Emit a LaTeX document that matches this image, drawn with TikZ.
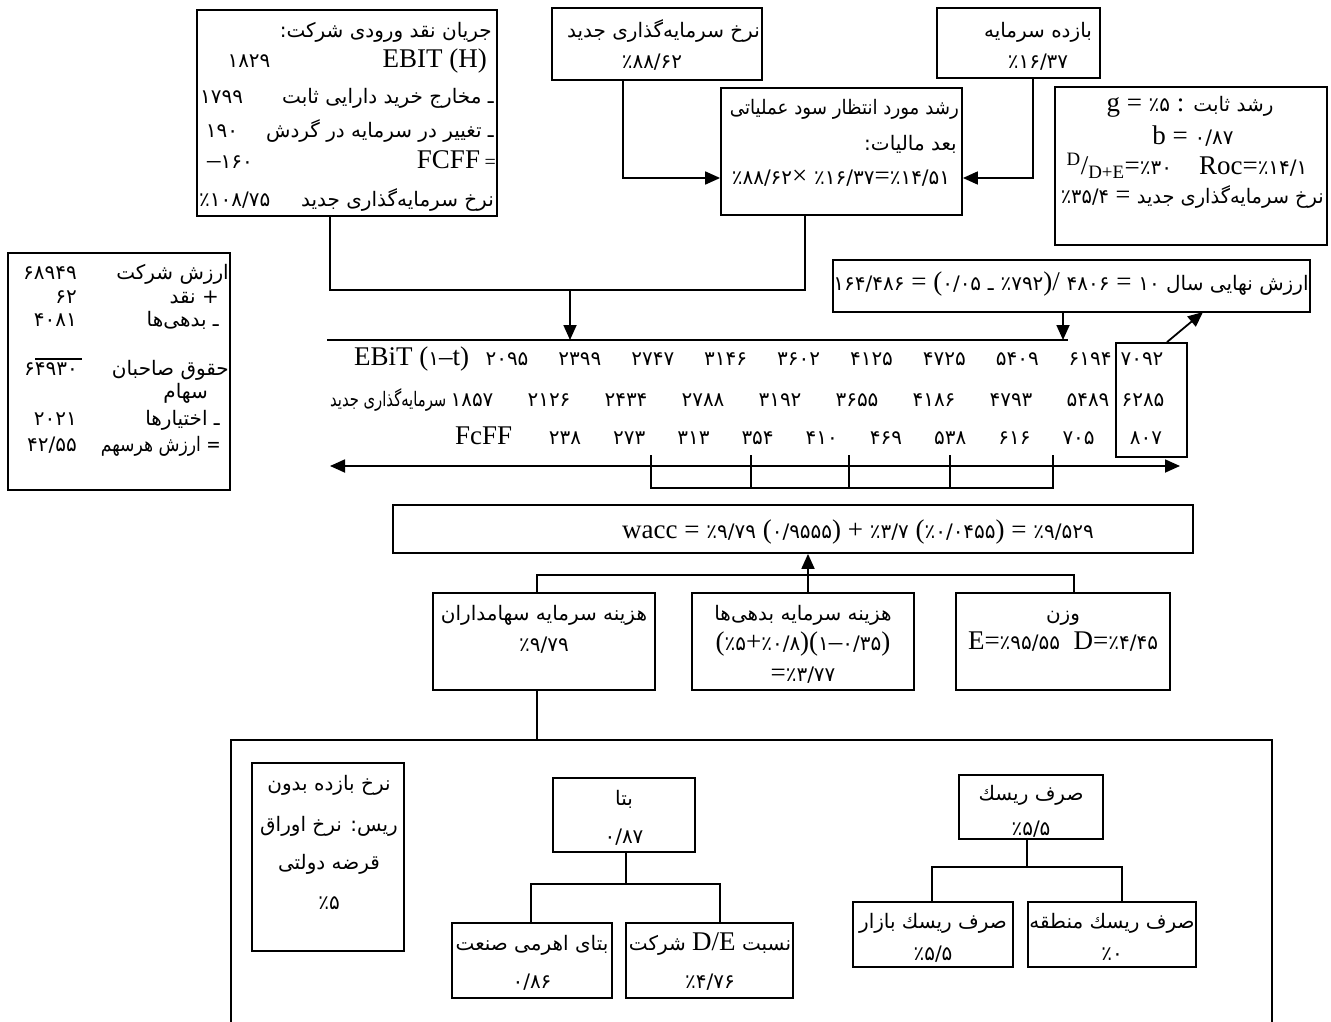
\documentclass[tikz,border=0pt]{standalone}
\usepackage{fontspec}
\setmainfont{Liberation Serif}
\newfontfamily\farsi[Script=Arabic,Scale=0.74]{DejaVu Sans}
\TeXXeTstate=1
\usetikzlibrary{arrows.meta,fit}
\newcommand\fa[1]{{\farsi\beginR #1\endR}}
\newcommand\fn[1]{{\farsi #1}}
\newcommand\latn[1]{\beginL{\rmfamily #1}\endL}
\begin{document}
\begin{tikzpicture}[x=1pt,y=-1pt,
  box/.style={draw,line width=1.8pt,inner sep=0pt},
  ln/.style={line width=1.8pt},
  arr/.style={line width=1.8pt,-{Triangle[length=15pt,width=13pt]}},
  darr/.style={line width=1.8pt,{Triangle[length=15pt,width=13pt]}-{Triangle[length=15pt,width=13pt]}},
  t/.style={inner sep=0pt,font=\fontsize{27}{30}\selectfont}]
\useasboundingbox (0,0) rectangle (1331,1022);
% ---------- top-left cash-flow box
\node[box,fit={(197,10)(497,216)}] (cf) {};
\node[t,anchor=base east] (cf1) at (492,38) {\fa{جریان نقد ورودی شرکت:}};
\node[t,anchor=base east] (cf2) at (487,68) {EBIT (H)};
\node[t,anchor=base] (cf2n) at (249,68) {\fn{۱۸۲۹}};
\node[t,anchor=base east] (cf3) at (494,104) {\fa{ـ مخارج خرید دارایی ثابت}};
\node[t,anchor=base west] (cf3n) at (200,104) {\fn{۱۷۹۹}};
\node[t,anchor=base east] (cf4) at (494,138) {\fa{ـ تغییر در سرمایه در گردش}};
\node[t,anchor=base] (cf4n) at (222,138) {\fn{۱۹۰}};
\node[t,anchor=base east] (cf5) at (496,168) {FCFF\,{\fontsize{20}{20}\selectfont =}};
\node[t,anchor=base] (cf5n) at (230,168) {–\fn{۱۶۰}};
\node[t,anchor=base east] (cf6) at (494,206) {\fa{نرخ سرمایه‌گذاری جدید}};
\node[t,anchor=base west] (cf6n) at (199,206) {\fn{٪۱۰۸/۷۵}};
% ---------- new investment rate
\node[box,fit={(552,8)(762,80)}] (nr) {};
\node[t,anchor=base east] (nr1) at (760,38) {\fa{نرخ سرمایه‌گذاری جدید}};
\node[t,anchor=base] (nr2) at (652,69) {\fn{٪۸۸/۶۲}};
% ---------- return on capital
\node[box,fit={(937,8)(1100,78)}] (bz) {};
\node[t,anchor=base] (bz1) at (1038,38) {\fa{بازده سرمایه}};
\node[t,anchor=base] (bz2) at (1038,69) {\fn{٪۱۶/۳۷}};
% ---------- expected growth
\node[box,fit={(721,88)(962,215)}] (rs) {};
\node[t,anchor=base east] (rs1) at (959,115) {\scalebox{0.91}[1]{\fa{رشد مورد انتظار سود عملیاتی}}};
\node[t,anchor=base east] (rs2) at (957,150) {\fa{بعد مالیات:}};
\node[t,anchor=base] (rs3) at (841,185) {\fn{٪۸۸/۶۲}× \fn{٪۱۶/۳۷}=\fn{٪۱۴/۵۱}};
% ---------- stable growth box
\node[box,fit={(1055,87)(1327,245)}] (gr) {};
\node[t,anchor=base] (gr1) at (1190,112) {g = \fn{٪۵} : \fa{رشد ثابت}};
\node[t,anchor=base] (gr2) at (1193,145) {b = \fn{۰/۸۷}};
\node[t,anchor=base] (gr3) at (1187,175) {\textsuperscript{D}/\textsubscript{D+E}=\fn{٪۳۰}\quad Roc=\fn{٪۱۴/۱}};
\node[t,anchor=base east] (gr4) at (1324,203) {\scalebox{0.97}[1]{\fn{٪۳۵/۴} = \fa{نرخ سرمایه‌گذاری جدید}}};
% ---------- terminal value
\node[box,fit={(833,260)(1310,312)}] (tv) {};
\node[t,anchor=base] (tvt) at (1071,290) {\fn{۱۶۴/۴۸۶} = (\fn{۰/۰۵} \fn{ـ} \fn{٪۷۹۲})/ \fn{۴۸۰۶} = \fa{ارزش نهایی سال ۱۰}};
% ---------- left valuation box
\node[box,fit={(8,253)(230,490)}] (lv) {};
\node[t,anchor=base east] (lv1) at (229,279) {\fa{ارزش شرکت}};
\node[t,anchor=base east] (lv1n) at (77,279) {\fn{۶۸۹۴۹}};
\node[t,anchor=base east] (lv2) at (219,303) {\fa{+ نقد}};
\node[t,anchor=base east] (lv2n) at (77,303) {\fn{۶۲}};
\node[t,anchor=base east] (lv3) at (219,326) {\fa{ـ بدهی‌ها}};
\node[t,anchor=base east] (lv3n) at (77,326) {\fn{۴۰۸۱}};
\draw[line width=1.2pt] (35,359) -- (82,359);
\node[t,anchor=base east] (lv4) at (229,375) {\fa{حقوق صاحبان}};
\node[t,anchor=base east] (lv4n) at (78,375) {\fn{۶۴۹۳۰}};
\node[t,anchor=base east] (lv5) at (208,398) {\fa{سهام}};
\node[t,anchor=base east] (lv6) at (220,425) {\fa{ـ اختیارها}};
\node[t,anchor=base east] (lv6n) at (77,425) {\fn{۲۰۲۱}};
\node[t,anchor=base east] (lv7) at (221,451) {\scalebox{0.86}[1]{\fa{= ارزش هرسهم}}};
\node[t,anchor=base east] (lv7n) at (77,451) {\fn{۴۲/۵۵}};
% ---------- cash-flow rows
\coordinate (tl1) at (327,340);
\coordinate (tl2) at (1068,340);
\draw[ln] (tl1) -- (tl2);
\node[t,anchor=base west] (r1l) at (354,365) {EBiT (\fn{۱}–t)};
\foreach \v [count=\i] in {۲۰۹۵,۲۳۹۹,۲۷۴۷,۳۱۴۶,۳۶۰۲,۴۱۲۵,۴۷۲۵,۵۴۰۹,۶۱۹۴}
  \node[t,anchor=base] (r1n\i) at ({507+(\i-1)*72.9},365) {\fn{\v}};
\node[t,anchor=base west] (r2l) at (330,406) {\scalebox{0.74}[1]{\fa{سرمایه‌گذاری جدید}}};
\foreach \v [count=\i] in {۱۸۵۷,۲۱۲۶,۲۴۳۴,۲۷۸۸,۳۱۹۲,۳۶۵۵,۴۱۸۶,۴۷۹۳,۵۴۸۹}
  \node[t,anchor=base] (r2n\i) at ({472+(\i-1)*77},406) {\fn{\v}};
\node[t,anchor=base west] (r3l) at (455,444) {FcFF};
\foreach \v [count=\i] in {۲۳۸,۲۷۳,۳۱۳,۳۵۴,۴۱۰,۴۶۹,۵۳۸,۶۱۶,۷۰۵}
  \node[t,anchor=base] (r3n\i) at ({565+(\i-1)*64.2},444) {\fn{\v}};
\node[box,fit={(1116,343)(1187,457)}] (sb) {};
\node[t,anchor=base] (sb1) at (1142,365) {\fn{۷۰۹۲}};
\node[t,anchor=base] (sb2) at (1143,406) {\fn{۶۲۸۵}};
\node[t,anchor=base] (sb3) at (1146,444) {\fn{۸۰۷}};
% time line and bracket
\coordinate (da1) at (330,466);
\coordinate (da2) at (1180,466);
\draw[darr] (da1) -- (da2);
\draw[ln] (651,455) -- (651,488) -- (1053,488) -- (1053,455);
\foreach \x in {751,849,950} \draw[ln] (\x,455) -- (\x,488);
% ---------- connectors top
\coordinate (j1) at (330,290);
\coordinate (j2) at (805,290);
\coordinate (j3) at (570,290);
\draw[ln] (cf.south -| j1) -- (j1) -- (j2) -- (rs.south -| j2);
\draw[arr] (j3) -- (j3 |- tl1);
\coordinate (k1) at (623,178);
\coordinate (k2) at (1033,178);
\draw[arr] (nr.south -| k1) |- (rs.west |- k1);
\draw[arr] (bz.south -| k2) |- (rs.east |- k2);
\coordinate (k3) at (1063,340);
\draw[arr] (tv.south -| k3) -- (k3);
\coordinate (k4) at (1167,343);
\coordinate (k5) at (1203,312);
\draw[arr] (sb.north -| k4) -- (k5);
% ---------- wacc
\node[box,fit={(393,505)(1193,553)}] (wc) {};
\node[t,anchor=base] (wct) at (858,538) {wacc = \fn{٪۹/۷۹} (\fn{۰/۹۵۵۵}) + \fn{٪۳/۷} (\fn{٪۰/۰۴۵۵}) = \fn{٪۹/۵۲۹}};
\node[box,fit={(433,593)(655,690)}] (ke) {};
\node[t,anchor=base] (ke1) at (544,620) {\fa{هزینه سرمایه سهامداران}};
\node[t,anchor=base] (ke2) at (544,651) {\fn{٪۹/۷۹}};
\node[box,fit={(692,593)(914,690)}] (kd) {};
\node[t,anchor=base] (kd1) at (803,620) {\fa{هزینه سرمایه بدهی‌ها}};
\node[t,anchor=base] (kd2) at (803,650) {(\fn{٪۵}+\fn{٪۰/۸})(\fn{۱}–\fn{۰/۳۵})};
\node[t,anchor=base] (kd3) at (803,681) {=\fn{٪۳/۷۷}};
\node[box,fit={(956,593)(1170,690)}] (wt) {};
\node[t,anchor=base] (wt1) at (1063,620) {\fa{وزن}};
\node[t,anchor=base] (wt2) at (1063,649) {E=\fn{٪۹۵/۵۵}\enspace D=\fn{٪۴/۴۵}};
\coordinate (m1) at (537,575);
\coordinate (m2) at (1074,575);
\coordinate (m3) at (808,575);
\draw[ln] (ke.north -| m1) -- (m1) -- (m2) -- (wt.north -| m2);
\draw[arr] (kd.north -| m3) -- (wc.south -| m3);
% ---------- cost of equity detail
\draw[ln] (231,1022) -- (231,740) -- (1272,740) -- (1272,1022);
\coordinate (bb) at (537,740);
\draw[ln] (ke.south -| bb) -- (bb);
\node[box,fit={(252,763)(404,951)}] (rf) {};
\node[t,anchor=base] (rf1) at (329,790) {\fa{نرخ بازده بدون}};
\node[t,anchor=base] (rf2) at (329,831) {\fa{ریس: نرخ اوراق}};
\node[t,anchor=base] (rf3) at (329,869) {\fa{قرضه دولتی}};
\node[t,anchor=base] (rf4) at (329,909) {\fn{٪۵}};
\node[box,fit={(553,778)(695,852)}] (bt) {};
\node[t,anchor=base] (bt1) at (624,805) {\fa{بتا}};
\node[t,anchor=base] (bt2) at (624,843) {\fn{۰/۸۷}};
\node[box,fit={(452,923)(612,998)}] (bl) {};
\node[t,anchor=base] (bl1) at (532,950) {\fa{بتای اهرمی صنعت}};
\node[t,anchor=base] (bl2) at (532,988) {\fn{۰/۸۶}};
\node[box,fit={(626,923)(793,998)}] (de) {};
\node[t,anchor=base] (de1) at (710,950) {\fa{نسبت \latn{D/E} شرکت}};
\node[t,anchor=base] (de2) at (710,988) {\fn{٪۴/۷۶}};
\coordinate (b1) at (626,884);
\coordinate (b2) at (531,884);
\coordinate (b3) at (720,884);
\draw[ln] (bt.south -| b1) -- (b1);
\draw[ln] (bl.north -| b2) -- (b2) -- (b3) -- (de.north -| b3);
\node[box,fit={(959,775)(1103,839)}] (rp) {};
\node[t,anchor=base] (rp1) at (1031,800) {\fa{صرف ریسك}};
\node[t,anchor=base] (rp2) at (1031,835) {\fn{٪۵/۵}};
\node[box,fit={(853,902)(1013,967)}] (rm) {};
\node[t,anchor=base] (rm1) at (933,928) {\fa{صرف ریسك بازار}};
\node[t,anchor=base] (rm2) at (933,960) {\fn{٪۵/۵}};
\node[box,fit={(1028,902)(1196,967)}] (rg) {};
\node[t,anchor=base] (rg1) at (1112,928) {\fa{صرف ریسك منطقه}};
\node[t,anchor=base] (rg2) at (1112,960) {\fn{٪۰}};
\coordinate (c1) at (1027,867);
\coordinate (c2) at (932,867);
\coordinate (c3) at (1122,867);
\draw[ln] (rp.south -| c1) -- (c1);
\draw[ln] (rm.north -| c2) -- (c2) -- (c3) -- (rg.north -| c3);
\end{tikzpicture}
\end{document}
